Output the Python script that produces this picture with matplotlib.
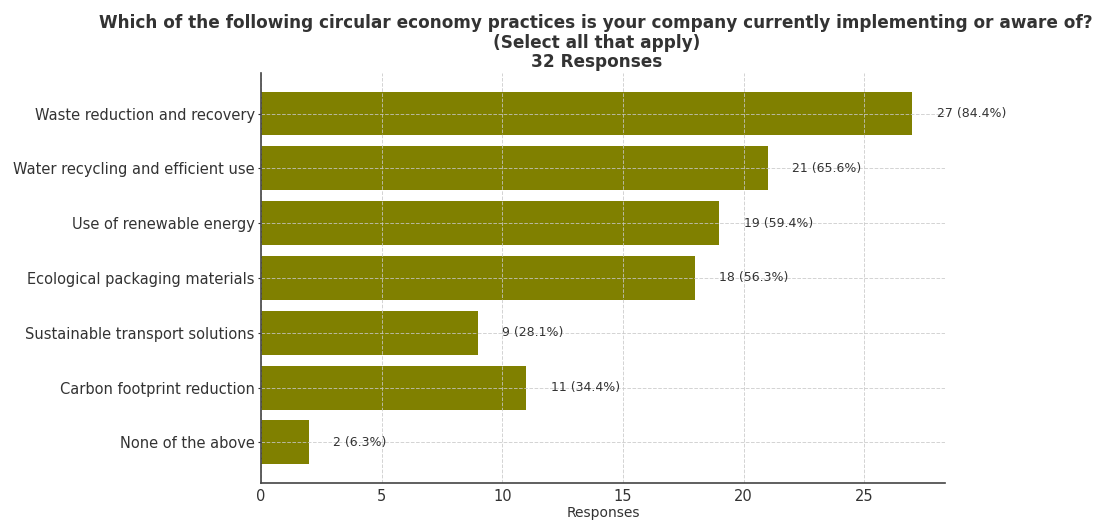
import matplotlib.pyplot as plt

# survey answers, top to bottom as shown
practices = [
    'Waste reduction and recovery',
    'Water recycling and efficient use',
    'Use of renewable energy',
    'Ecological packaging materials',
    'Sustainable transport solutions',
    'Carbon footprint reduction',
    'None of the above',
]
counts = [27, 21, 19, 18, 9, 11, 2]
percents = [84.4, 65.6, 59.4, 56.3, 28.1, 34.4, 6.3]
total = 32

fig = plt.figure(figsize=(11.08, 5.2), dpi=100)
ax = fig.add_axes([0.2356, 0.0712, 0.6173, 0.7885])

ypos = list(range(len(practices)))
ax.barh(ypos, counts, height=0.8, color='#808000')
ax.set_yticks(ypos)
ax.set_yticklabels(practices, fontsize=10.5, color='#333333')
ax.invert_yaxis()
ax.set_xlim(0, max(counts) * 1.05)

for y, c, p in zip(ypos, counts, percents):
    ax.text(c + 1, y, f'{c} ({p}%)', va='center', ha='left', fontsize=9, color='#333333')

ax.grid(True, linestyle='--', color='#c8c8c8', linewidth=0.7, alpha=0.8)
ax.spines['top'].set_visible(False)
ax.spines['right'].set_visible(False)
for side in ('left', 'bottom'):
    ax.spines[side].set_color('#444444')
    ax.spines[side].set_linewidth(1.2)
ax.tick_params(axis='x', labelsize=10.5, labelcolor='#333333', length=0, pad=4)
ax.tick_params(axis='y', color='#333333', length=2.5, pad=2)
ax.set_xlabel('Responses', fontsize=10, color='#333333', labelpad=2)

ax.set_title('Which of the following circular economy practices is your company currently implementing or aware of?\n'
             f'(Select all that apply)\n{total} Responses',
             fontsize=12.2, fontweight='bold', color='#333333', linespacing=1.12, x=0.49, pad=4)

plt.savefig('out.png')
